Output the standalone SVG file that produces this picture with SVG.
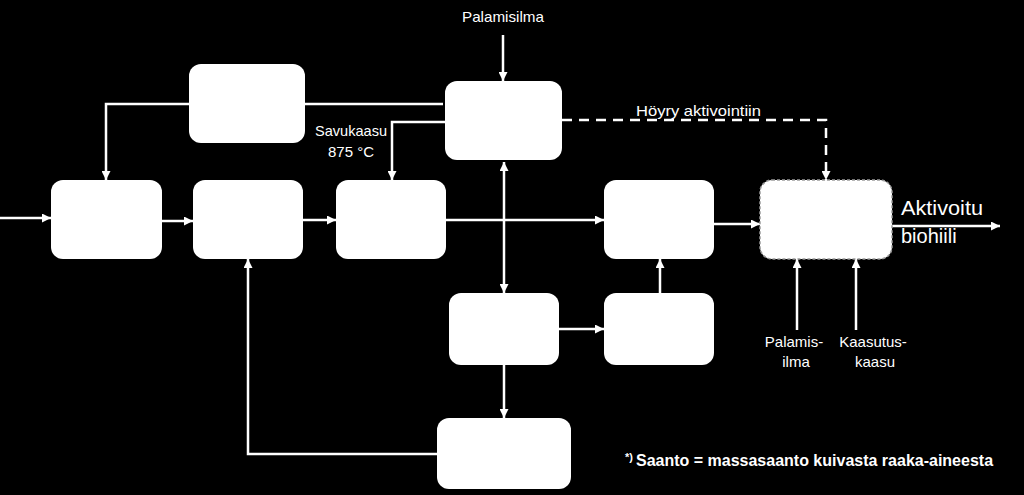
<svg xmlns="http://www.w3.org/2000/svg" width="1024" height="495" viewBox="0 0 1024 495">
<style>
.bg{fill:#000}
.box{fill:#fff}
.dbox{fill:#fff;stroke:#9a9a9a;stroke-width:1.5;stroke-dasharray:3 2}
.ln{fill:none;stroke:#fff;stroke-width:2.5}
.dash{stroke-dasharray:10 7}
.t{fill:#fff;font-family:"Liberation Sans",Arial,sans-serif;font-size:15px}
.big{font-size:20px}
.fn{font-weight:bold;font-size:16px}
</style>
<defs>
<marker id="arr" viewBox="0 0 10 10" refX="10" refY="5" markerWidth="9" markerHeight="9" markerUnits="userSpaceOnUse" orient="auto-start-reverse">
<path d="M0,0 L10,5 L0,10 z" fill="#fff"/>
</marker>
</defs>
<rect class="bg" x="0" y="0" width="1024" height="495"/>
<g id="connectors">
<path class="ln" d="M0,218 H51" marker-end="url(#arr)"/>
<path class="ln" d="M161,221 H193" marker-end="url(#arr)"/>
<path class="ln" d="M303,220 H336" marker-end="url(#arr)"/>
<path class="ln" d="M446,220 H604" marker-end="url(#arr)"/>
<path class="ln" d="M504,162 V293" marker-start="url(#arr)" marker-end="url(#arr)"/>
<path class="ln" d="M504,365 V418" marker-end="url(#arr)"/>
<path class="ln" d="M559,329 H604" marker-end="url(#arr)"/>
<path class="ln" d="M660,293 V259" marker-end="url(#arr)"/>
<path class="ln" d="M714,224 H760" marker-end="url(#arr)"/>
<path class="ln" d="M892,226 H1000" marker-end="url(#arr)"/>
<path class="ln" d="M503,35 V81" marker-end="url(#arr)"/>
<path class="ln" d="M443,104 H106 V180" marker-end="url(#arr)"/>
<path class="ln" d="M445,122 H392 V180" marker-end="url(#arr)"/>
<path class="ln dash" d="M562,120 H826 V180" marker-end="url(#arr)"/>
<path class="ln" d="M437,454 H248 V259" marker-end="url(#arr)"/>
<path class="ln" d="M797,330 V259" marker-end="url(#arr)"/>
<path class="ln" d="M856,330 V259" marker-end="url(#arr)"/>
</g>
<g id="nodeA"><rect class="box" x="189" y="64" width="116" height="79" rx="12"/></g>
<g id="nodeB"><rect class="box" x="445" y="81" width="117" height="79" rx="12"/></g>
<g id="node1"><rect class="box" x="51" y="180" width="111" height="79" rx="12"/></g>
<g id="node2"><rect class="box" x="193" y="180" width="110" height="79" rx="12"/></g>
<g id="node3"><rect class="box" x="336" y="180" width="110" height="79" rx="12"/></g>
<g id="node4"><rect class="box" x="604" y="180" width="110" height="79" rx="12"/></g>
<g id="node5"><rect class="dbox" x="760" y="180" width="132" height="79" rx="12"/></g>
<g id="node6"><rect class="box" x="449" y="293" width="110" height="72" rx="12"/></g>
<g id="node7"><rect class="box" x="604" y="293" width="110" height="72" rx="12"/></g>
<g id="node8"><rect class="box" x="437" y="418" width="134" height="71" rx="12"/></g>
<g id="labels">
<text class="t" x="503" y="22" text-anchor="middle" textLength="82" lengthAdjust="spacingAndGlyphs">Palamisilma</text>
<text class="t" x="387" y="136" text-anchor="end" textLength="72" lengthAdjust="spacingAndGlyphs">Savukaasu</text>
<text class="t" x="351" y="157" text-anchor="middle">875 °C</text>
<text class="t" x="636" y="116" textLength="125" lengthAdjust="spacingAndGlyphs">Höyry aktivointiin</text>
<text class="t big" x="901" y="215" textLength="82" lengthAdjust="spacingAndGlyphs">Aktivoitu</text>
<text class="t big" x="901" y="243">biohiili</text>
<text class="t" x="794" y="347" text-anchor="middle">Palamis-</text>
<text class="t" x="796" y="367" text-anchor="middle">ilma</text>
<text class="t" x="873" y="347" text-anchor="middle">Kaasutus-</text>
<text class="t" x="875" y="367" text-anchor="middle">kaasu</text>
<text class="t fn" x="625" y="466"><tspan font-size="11" dy="-5">*)</tspan><tspan dy="5" dx="3">Saanto = massasaanto kuivasta raaka-aineesta</tspan></text>
</g>
</svg>
